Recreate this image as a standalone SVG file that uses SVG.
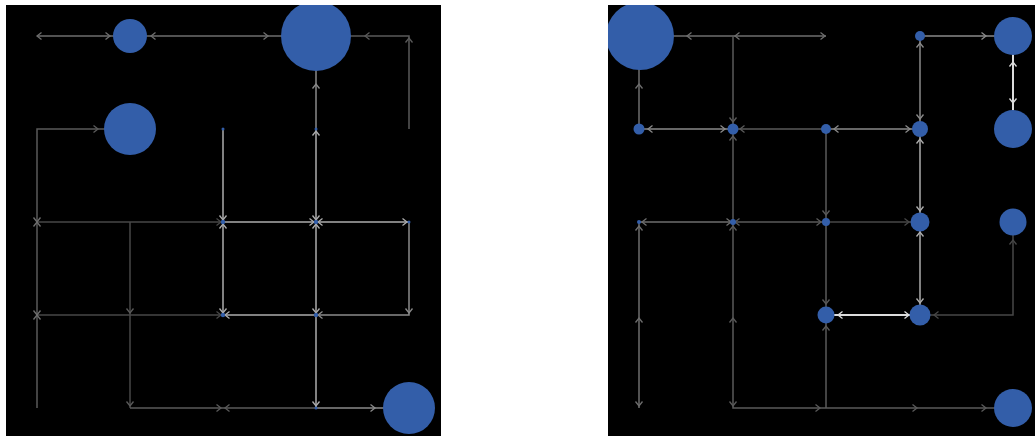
<svg xmlns="http://www.w3.org/2000/svg" xmlns:xlink="http://www.w3.org/1999/xlink" width="1035" height="436" viewBox="0 0 1035 436">
  <style>
    .panel { fill: #000; }
    .e { fill: none; stroke-width: 1.5; stroke-linecap: butt; }
    .g1 { stroke: #474747; }
    .g2 { stroke: #5a5a5a; }
    .g3 { stroke: #6e6e6e; }
    .g4 { stroke: #8a8a8a; }
    .g5 { stroke: #adadad; }
    .g6 { stroke: #dcdcdc; stroke-width: 2; }
    .node { fill: #335ea9; }
  </style>
  <defs>
    <!-- open chevron, tip at the origin, pointing along +x -->
    <path id="ah" d="M-4.5,-3.5 L0,0 L-4.5,3.5" fill="none" stroke-width="1.3"/>
    <clipPath id="clipL"><rect x="6" y="5" width="435" height="431"/></clipPath>
    <clipPath id="clipR"><rect x="608" y="5" width="427" height="431"/></clipPath>
  </defs>

  <rect class="panel" x="6" y="5" width="435" height="431"/>
  <rect class="panel" x="608" y="5" width="427" height="431"/>

  <!-- left grid -->
  <g id="connectors-left" clip-path="url(#clipL)">
    <path class="e g3" d="M37,36 H130"/>
    <path class="e g3" d="M130,36 H316"/>
    <path class="e g2" d="M316,36 H409 V129"/>
    <path class="e g2" d="M130,129 H37 V408"/>
    <path class="e g5" d="M223,129 V315"/>
    <path class="e g4" d="M316,36 V129"/>
    <path class="e g5" d="M316,129 V408"/>
    <path class="e g1" d="M37,222 H223"/>
    <path class="e g5" d="M223,222 H316"/>
    <path class="e g5" d="M316,222 H409"/>
    <path class="e g4" d="M409,222 V315 H316"/>
    <path class="e g1" d="M37,315 H223"/>
    <path class="e g5" d="M223,315 H316"/>
    <path class="e g1" d="M130,222 V408"/>
    <path class="e g2" d="M130,408 H316"/>
    <path class="e g4" d="M316,408 H409"/>

    <use href="#ah" class="g3" transform="translate(37,36) rotate(180)"/>
    <use href="#ah" class="g3" transform="translate(110,36)"/>
    <use href="#ah" class="g3" transform="translate(151,36) rotate(180)"/>
    <use href="#ah" class="g3" transform="translate(268,36)"/>
    <use href="#ah" class="g2" transform="translate(365,36) rotate(180)"/>
    <use href="#ah" class="g2" transform="translate(409,38) rotate(-90)"/>
    <use href="#ah" class="g4" transform="translate(316,84) rotate(-90)"/>
    <use href="#ah" class="g5" transform="translate(316,131) rotate(-90)"/>
    <use href="#ah" class="g2" transform="translate(98,129)"/>
    <use href="#ah" class="g3" transform="translate(37,222) rotate(90)"/>
    <use href="#ah" class="g3" transform="translate(37,222) rotate(-90)"/>
    <use href="#ah" class="g3" transform="translate(37,315) rotate(90)"/>
    <use href="#ah" class="g3" transform="translate(37,315) rotate(-90)"/>
    <use href="#ah" class="g5" transform="translate(223,220) rotate(90)"/>
    <use href="#ah" class="g1" transform="translate(221,222)"/>
    <use href="#ah" class="g5" transform="translate(223,224) rotate(-90)"/>
    <use href="#ah" class="g5" transform="translate(316,220) rotate(90)"/>
    <use href="#ah" class="g5" transform="translate(314,222)"/>
    <use href="#ah" class="g5" transform="translate(318,222) rotate(180)"/>
    <use href="#ah" class="g5" transform="translate(316,224) rotate(-90)"/>
    <use href="#ah" class="g5" transform="translate(407,222)"/>
    <use href="#ah" class="g4" transform="translate(409,313) rotate(90)"/>
    <use href="#ah" class="g4" transform="translate(318,315) rotate(180)"/>
    <use href="#ah" class="g5" transform="translate(316,313) rotate(90)"/>
    <use href="#ah" class="g5" transform="translate(223,313) rotate(90)"/>
    <use href="#ah" class="g1" transform="translate(221,315)"/>
    <use href="#ah" class="g5" transform="translate(225,315) rotate(180)"/>
    <use href="#ah" class="g2" transform="translate(130,313) rotate(90)"/>
    <use href="#ah" class="g2" transform="translate(130,406) rotate(90)"/>
    <use href="#ah" class="g2" transform="translate(221,408)"/>
    <use href="#ah" class="g2" transform="translate(225,408) rotate(180)"/>
    <use href="#ah" class="g5" transform="translate(316,406) rotate(90)"/>
    <use href="#ah" class="g4" transform="translate(375,408)"/>
  </g>

  <g id="nodes-left" clip-path="url(#clipL)">
    <g id="nL-130-36"><circle class="node" cx="130" cy="36" r="17"/></g>
    <g id="nL-316-36"><circle class="node" cx="316" cy="36" r="35"/></g>
    <g id="nL-130-129"><circle class="node" cx="130" cy="129" r="26"/></g>
    <g id="nL-223-129"><circle class="node" cx="223" cy="129" r="1.5"/></g>
    <g id="nL-316-129"><circle class="node" cx="316" cy="129" r="1.5"/></g>
    <g id="nL-223-222"><circle class="node" cx="223" cy="222" r="2.2"/></g>
    <g id="nL-316-222"><circle class="node" cx="316" cy="222" r="2.2"/></g>
    <g id="nL-409-222"><circle class="node" cx="409" cy="222" r="1.5"/></g>
    <g id="nL-223-315"><circle class="node" cx="223" cy="315" r="2.2"/></g>
    <g id="nL-316-315"><circle class="node" cx="316" cy="315" r="2.2"/></g>
    <g id="nL-316-408"><circle class="node" cx="316" cy="408" r="1.5"/></g>
    <g id="nL-409-408"><circle class="node" cx="409" cy="408" r="26"/></g>
  </g>

  <!-- right grid -->
  <g id="connectors-right" clip-path="url(#clipR)">
    <path class="e g3" d="M639,36 H826"/>
    <path class="e g4" d="M920,36 H1013"/>
    <path class="e g6" d="M1013,36 V129"/>
    <path class="e g4" d="M920,36 V129"/>
    <path class="e g3" d="M639,36 V129"/>
    <path class="e g4" d="M639,129 H733"/>
    <path class="e g2" d="M733,129 H826"/>
    <path class="e g4" d="M826,129 H920"/>
    <path class="e g2" d="M733,36 V408 H1013"/>
    <path class="e g2" d="M826,129 V408"/>
    <path class="e g5" d="M920,129 V315"/>
    <path class="e g3" d="M639,222 H733"/>
    <path class="e g2" d="M733,222 H826"/>
    <path class="e g1" d="M826,222 H920"/>
    <path class="e g3" d="M639,222 V408"/>
    <path class="e g1" d="M1013,222 V315 H920"/>
    <path class="e g6" d="M826,315 H920"/>

    <use href="#ah" class="g3" transform="translate(687,36) rotate(180)"/>
    <use href="#ah" class="g3" transform="translate(735,36) rotate(180)"/>
    <use href="#ah" class="g3" transform="translate(825,36)"/>
    <use href="#ah" class="g4" transform="translate(986,36)"/>
    <use href="#ah" class="g6" transform="translate(1013,62) rotate(-90)"/>
    <use href="#ah" class="g6" transform="translate(1013,103) rotate(90)"/>
    <use href="#ah" class="g4" transform="translate(920,43) rotate(-90)"/>
    <use href="#ah" class="g4" transform="translate(920,119) rotate(90)"/>
    <use href="#ah" class="g3" transform="translate(639,84) rotate(-90)"/>
    <use href="#ah" class="g4" transform="translate(648,129) rotate(180)"/>
    <use href="#ah" class="g4" transform="translate(725,129)"/>
    <use href="#ah" class="g2" transform="translate(733,122) rotate(90)"/>
    <use href="#ah" class="g2" transform="translate(740,129) rotate(180)"/>
    <use href="#ah" class="g2" transform="translate(733,136) rotate(-90)"/>
    <use href="#ah" class="g4" transform="translate(834,129) rotate(180)"/>
    <use href="#ah" class="g4" transform="translate(910,129)"/>
    <use href="#ah" class="g2" transform="translate(826,215) rotate(90)"/>
    <use href="#ah" class="g5" transform="translate(920,139) rotate(-90)"/>
    <use href="#ah" class="g5" transform="translate(920,211) rotate(90)"/>
    <use href="#ah" class="g3" transform="translate(642,222) rotate(180)"/>
    <use href="#ah" class="g3" transform="translate(731,222)"/>
    <use href="#ah" class="g2" transform="translate(735,222) rotate(180)"/>
    <use href="#ah" class="g2" transform="translate(733,226) rotate(-90)"/>
    <use href="#ah" class="g2" transform="translate(821,222)"/>
    <use href="#ah" class="g1" transform="translate(909,222)"/>
    <use href="#ah" class="g3" transform="translate(639,226) rotate(-90)"/>
    <use href="#ah" class="g3" transform="translate(639,318) rotate(-90)"/>
    <use href="#ah" class="g3" transform="translate(639,406) rotate(90)"/>
    <use href="#ah" class="g2" transform="translate(733,318) rotate(-90)"/>
    <use href="#ah" class="g2" transform="translate(733,406) rotate(90)"/>
    <use href="#ah" class="g2" transform="translate(826,304) rotate(90)"/>
    <use href="#ah" class="g2" transform="translate(826,326) rotate(-90)"/>
    <use href="#ah" class="g5" transform="translate(920,232) rotate(-90)"/>
    <use href="#ah" class="g5" transform="translate(920,303) rotate(90)"/>
    <use href="#ah" class="g1" transform="translate(1013,240) rotate(-90)"/>
    <use href="#ah" class="g1" transform="translate(934,315) rotate(180)"/>
    <use href="#ah" class="g6" transform="translate(838,315) rotate(180)"/>
    <use href="#ah" class="g6" transform="translate(909,315)"/>
    <use href="#ah" class="g2" transform="translate(820,408)"/>
    <use href="#ah" class="g2" transform="translate(917,408)"/>
    <use href="#ah" class="g2" transform="translate(986,408)"/>
  </g>

  <g id="nodes-right" clip-path="url(#clipR)">
    <g id="nR-639-36"><circle class="node" cx="640" cy="36" r="34"/></g>
    <g id="nR-920-36"><circle class="node" cx="920" cy="36" r="5"/></g>
    <g id="nR-1013-36"><circle class="node" cx="1013" cy="36" r="19"/></g>
    <g id="nR-639-129"><circle class="node" cx="639" cy="129" r="5.5"/></g>
    <g id="nR-733-129"><circle class="node" cx="733" cy="129" r="5.5"/></g>
    <g id="nR-826-129"><circle class="node" cx="826" cy="129" r="5"/></g>
    <g id="nR-920-129"><circle class="node" cx="920" cy="129" r="8"/></g>
    <g id="nR-1013-129"><circle class="node" cx="1013" cy="129" r="19"/></g>
    <g id="nR-639-222"><circle class="node" cx="639" cy="222" r="2"/></g>
    <g id="nR-733-222"><circle class="node" cx="733" cy="222" r="3"/></g>
    <g id="nR-826-222"><circle class="node" cx="826" cy="222" r="4"/></g>
    <g id="nR-920-222"><circle class="node" cx="920" cy="222" r="9.5"/></g>
    <g id="nR-1013-222"><circle class="node" cx="1013" cy="222" r="13.5"/></g>
    <g id="nR-826-315"><circle class="node" cx="826" cy="315" r="8.5"/></g>
    <g id="nR-920-315"><circle class="node" cx="920" cy="315" r="10.5"/></g>
    <g id="nR-1013-408"><circle class="node" cx="1013" cy="408" r="19"/></g>
  </g>
</svg>
